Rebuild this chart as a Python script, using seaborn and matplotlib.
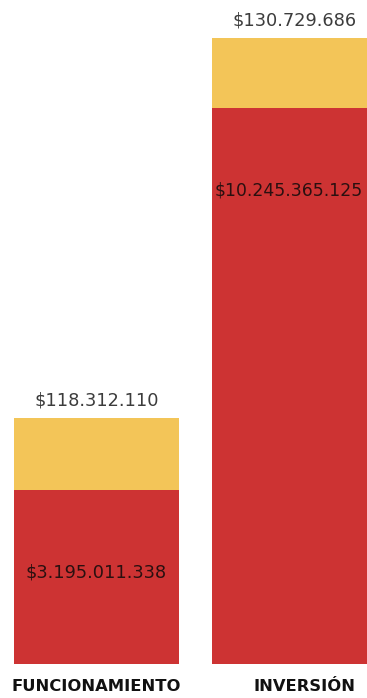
import matplotlib
matplotlib.use("Agg")
import matplotlib.pyplot as plt
import seaborn as sns
import pandas as pd

# ---- data ----
categories = ["FUNCIONAMIENTO", "INVERSIÓN"]
red_values = [3195011338, 10245365125]          # lower (red) segment
yellow_values = [118312110, 130729686]          # upper (yellow) segment, labelled values
# displayed height of the yellow segment as drawn in the reference (not to scale with its label)
yellow_drawn = [1328000000, 1292000000]
red_labels = ["$3.195.011.338", "$10.245.365.125"]
yellow_labels = ["$118.312.110", "$130.729.686"]

RED = "#CD3333"
YELLOW = "#F3C558"

sns.set_theme(style="white")
plt.rcParams["font.family"] = ["DejaVu Sans"]

df = pd.DataFrame({
    "cat": categories,
    "red": red_values,
    "total": [r + y for r, y in zip(red_values, yellow_drawn)],
})

fig = plt.figure(figsize=(3.67, 6.98), dpi=100)
ax_h = 663.5 / 698
ax = fig.add_axes([0, 1 - ax_h, 1, ax_h])

sns.barplot(data=df, x="cat", y="total", color=YELLOW, saturation=1, width=0.833,
            ax=ax, edgecolor="none", linewidth=0)
sns.barplot(data=df, x="cat", y="red", color=RED, saturation=1, width=0.833,
            ax=ax, edgecolor="none", linewidth=0)

ax.set_xlim(-0.487, 1.366)
ax.set_ylim(0, 12242e6)
for s in ax.spines.values():
    s.set_visible(False)
ax.set_xticks([])
ax.set_yticks([])
ax.set_xlabel("")
ax.set_ylabel("")

cat_dx = [0, 7]
red_dx = [0, -3.8]
red_fs = [12.8, 12.4]
for i, cat in enumerate(categories):
    tot = df["total"][i]
    ax.annotate(yellow_labels[i], (i, tot), xytext=(0, 12.5), textcoords="offset points",
                ha="center", va="center", fontsize=12.8, color="#3c3c3c", clip_on=False)
    ax.annotate(red_labels[i], (i, red_values[i]), xytext=(red_dx[i], -59), textcoords="offset points",
                ha="center", va="center", fontsize=red_fs[i], color="#2a1010", clip_on=False)
    ax.annotate(cat, (i, 0), xytext=(cat_dx[i], -16.5), textcoords="offset points",
                ha="center", va="center", fontsize=11.8, fontweight="bold", color="#111111",
                annotation_clip=False)

fig.savefig("out.png", dpi=100)
